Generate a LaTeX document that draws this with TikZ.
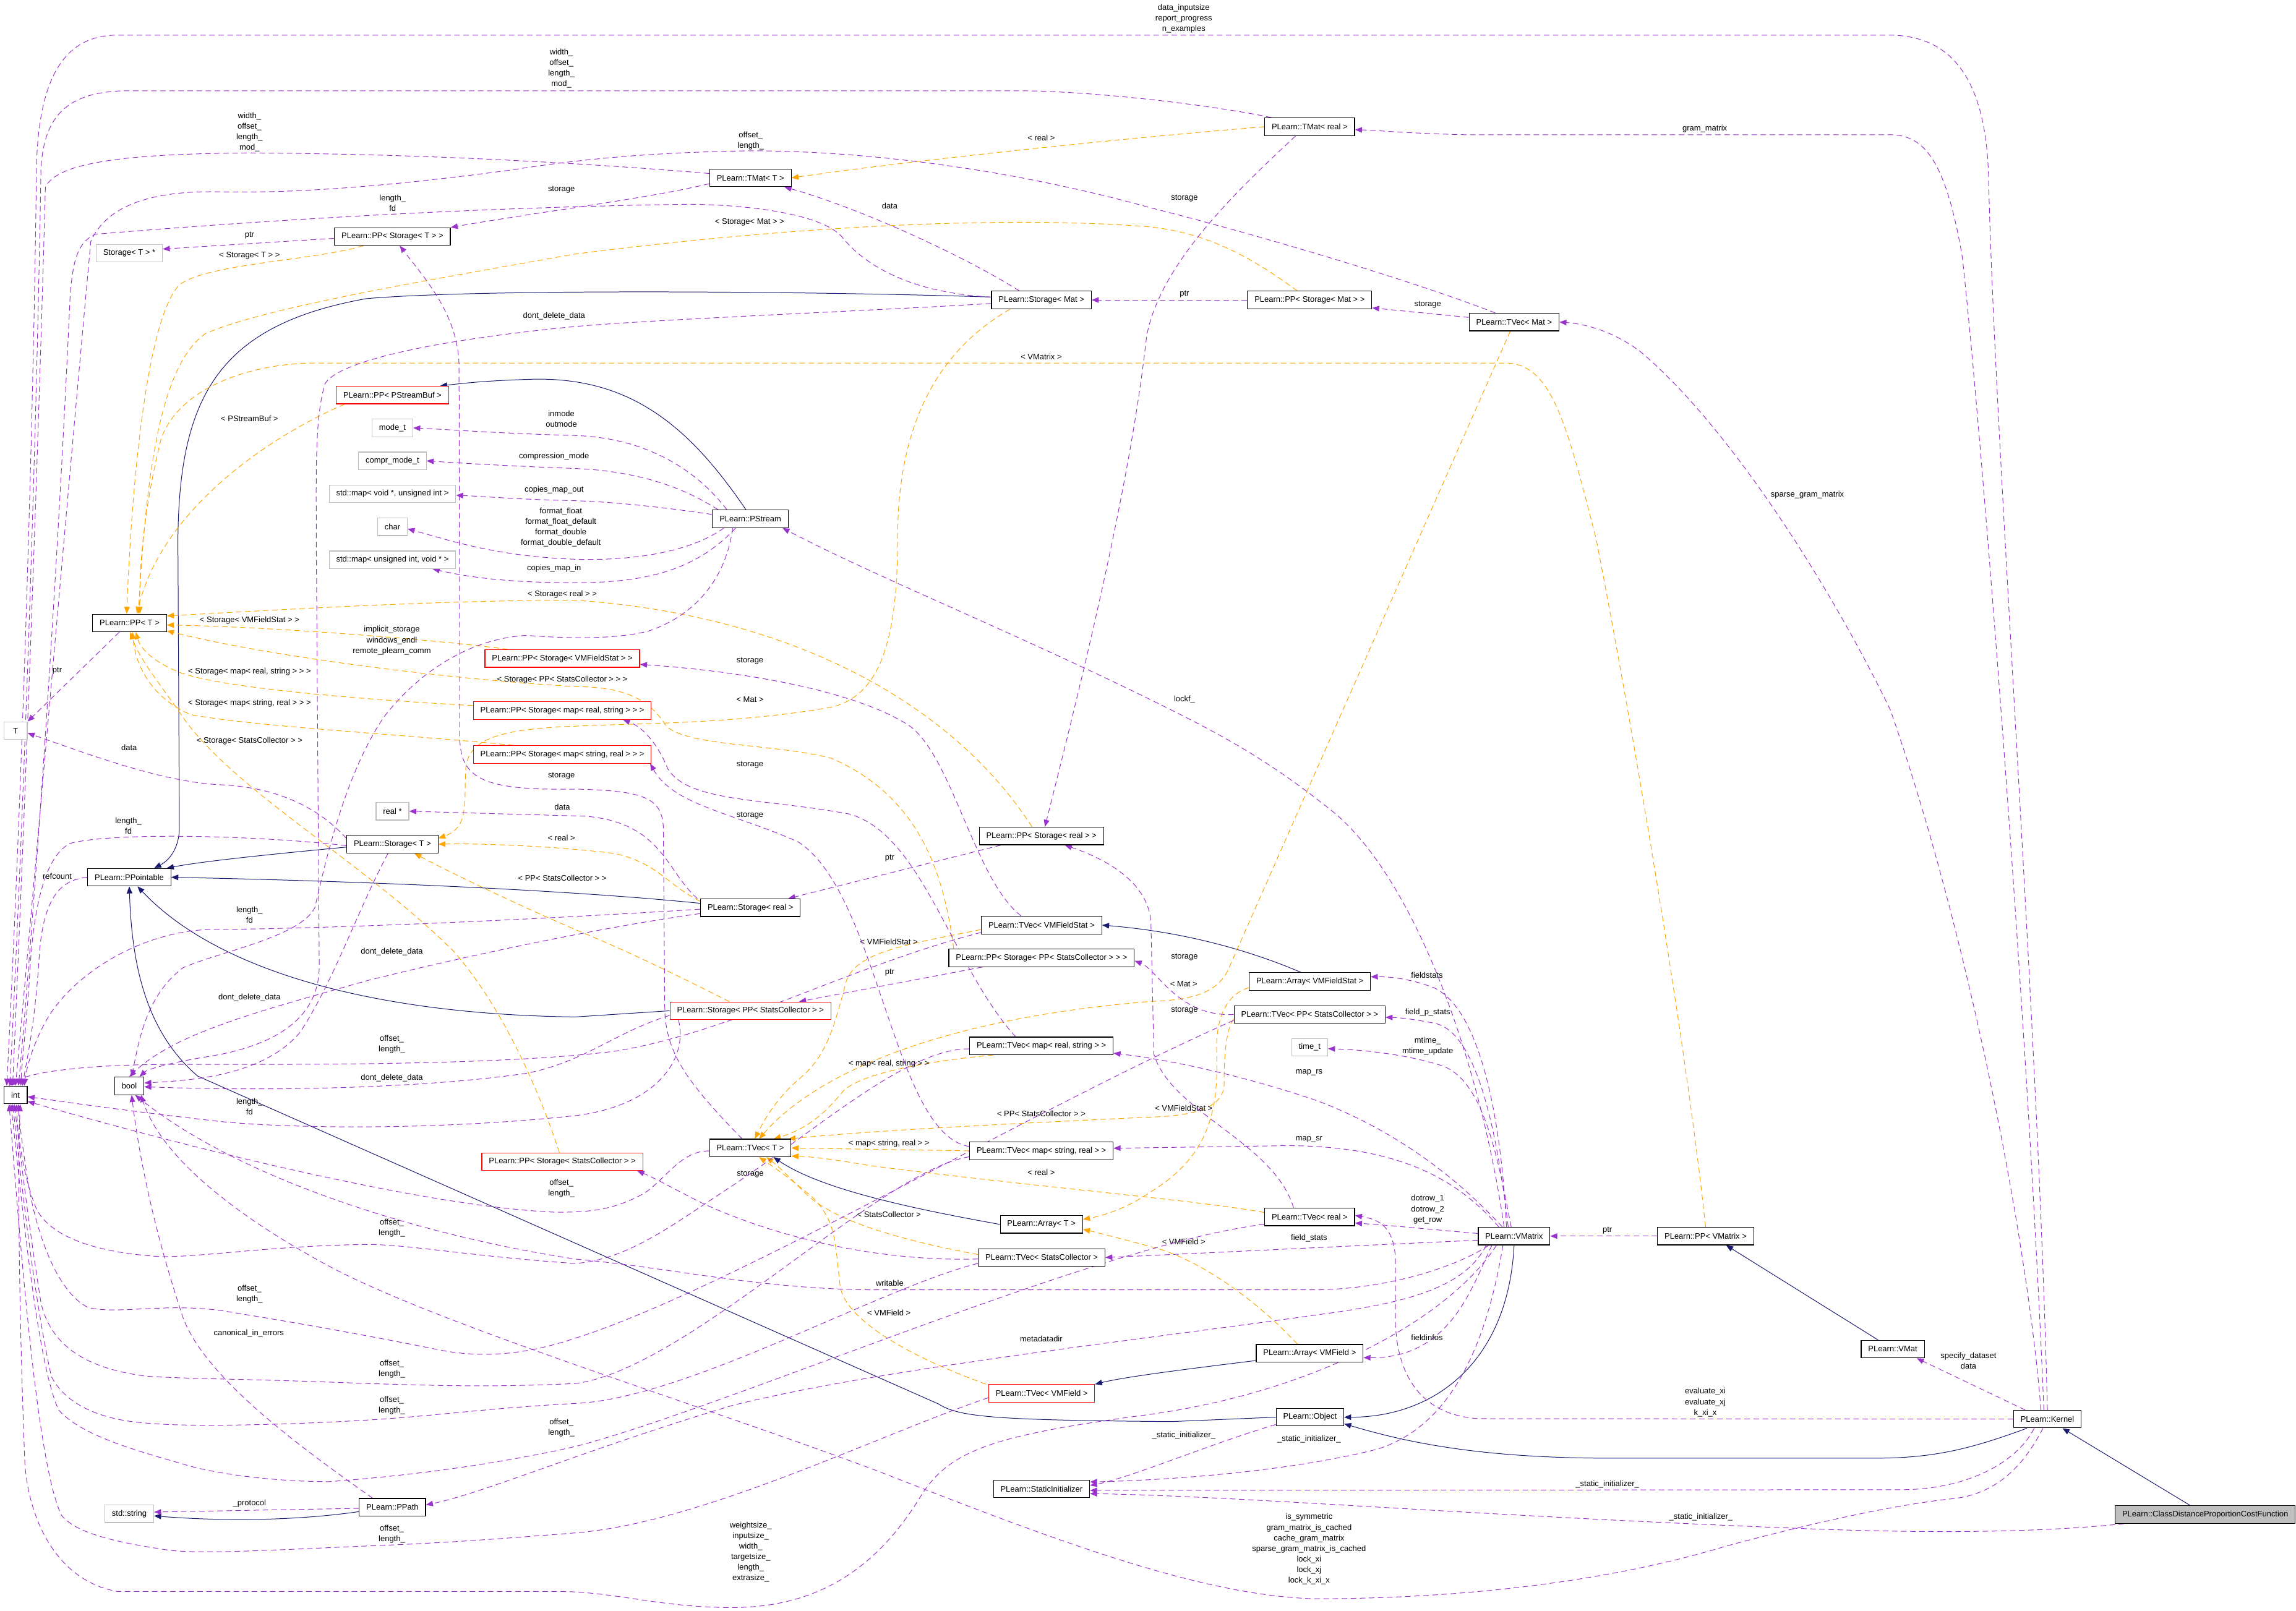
\documentclass[tikz,border=0pt]{standalone}
\usepackage{fontspec}
\setmainfont{Liberation Sans}
\usetikzlibrary{arrows.meta}
\definecolor{useedge}{HTML}{9A32CD}
\definecolor{tmpledge}{HTML}{FFA500}
\definecolor{inhedge}{HTML}{191970}
\definecolor{boxgray}{HTML}{BFBFBF}
\pgfdeclarelayer{edges}
\pgfsetlayers{edges,main}

\begin{document}
\begin{tikzpicture}[
    x=0.5mm, y=-0.5mm,
    >={Triangle[length=2.4mm,width=1.9mm]},
    font=\fontsize{7.8}{10.3}\selectfont,
    cls/.style={draw=black, fill=white, line width=0.7pt, minimum width=8mm, minimum height=6mm, inner xsep=2.4mm, inner ysep=0pt},
    ext/.style={cls, draw=boxgray},
    trunc/.style={cls, draw=red},
    focus/.style={cls, fill=boxgray},
    inherit/.style={->, draw=inhedge, line width=0.6pt},
    member/.style={->, draw=useedge, line width=0.6pt, dash pattern=on 1.9mm off 1.2mm},
    tmpl/.style={->, draw=tmpledge, line width=0.6pt, dash pattern=on 1.9mm off 1.2mm},
    lab/.style={align=center, inner sep=0pt}
  ]
    \useasboundingbox (0,0) rectangle (1568,1100);

    \node[cls] (int) at (10.6,747.9) {int};
    \node[cls] (bool) at (88.3,741.7) {bool};
    \node[ext] (tT) at (10.6,499.1) {T};
    \node[cls] (ppT) at (88.5,425.5) {PLearn::PP< T >};
    \node[cls] (ppointable) at (88.3,599.2) {PLearn::PPointable};
    \node[ext] (stdstring) at (88.3,1034) {std::string};
    \node[ext] (storTptr) at (88.3,172.9) {Storage< T > *};
    \node[cls] (ppStorT) at (268,161.6) {PLearn::PP< Storage< T > >};
    \node[trunc] (ppPStreamBuf) at (268,269.8) {PLearn::PP< PStreamBuf >};
    \node[ext] (modet) at (268,292.3) {mode\_t};
    \node[ext] (comprmodet) at (268,314.8) {compr\_mode\_t};
    \node[ext] (mapvoid) at (268,337.3) {std::map< void *, unsigned int >};
    \node[ext] (char) at (268,359.8) {char};
    \node[ext] (mapuint) at (268,382.4) {std::map< unsigned int, void * >};
    \node[trunc] (ppStorVMFS) at (384,449.8) {PLearn::PP< Storage< VMFieldStat > >};
    \node[trunc] (ppStorMapRS) at (384,485.3) {PLearn::PP< Storage< map< real, string > > >};
    \node[trunc] (ppStorMapSR) at (384,515.3) {PLearn::PP< Storage< map< string, real > > >};
    \node[ext] (realptr) at (268,554.1) {real *};
    \node[cls] (storT) at (268,576.6) {PLearn::Storage< T >};
    \node[trunc] (ppStorSC) at (384,793.5) {PLearn::PP< Storage< StatsCollector > >};
    \node[cls] (ppath) at (268,1029.5) {PLearn::PPath};
    \node[cls] (tmatT) at (512.5,121.5) {PLearn::TMat< T >};
    \node[cls] (pstream) at (512.4,354.4) {PLearn::PStream};
    \node[cls] (storReal) at (512.5,620) {PLearn::Storage< real >};
    \node[trunc] (storPPSC) at (512.5,690.4) {PLearn::Storage< PP< StatsCollector > >};
    \node[cls] (tvecT) at (512.4,784.1) {PLearn::TVec< T >};
    \node[cls] (storMat) at (711.2,204.9) {PLearn::Storage< Mat >};
    \node[cls] (ppStorReal) at (711.2,571) {PLearn::PP< Storage< real > >};
    \node[cls] (tvecVMFS) at (711.3,631.9) {PLearn::TVec< VMFieldStat >};
    \node[cls] (ppStorPPSC) at (711.3,654.3) {PLearn::PP< Storage< PP< StatsCollector > > >};
    \node[cls] (tvecMapRS) at (711.2,714.4) {PLearn::TVec< map< real, string > >};
    \node[cls] (tvecMapSR) at (711.2,786.1) {PLearn::TVec< map< string, real > >};
    \node[cls] (arrayT) at (711.2,836.3) {PLearn::Array< T >};
    \node[cls] (tvecSC) at (711.4,858.9) {PLearn::TVec< StatsCollector >};
    \node[trunc] (tvecVMField) at (711.4,951.7) {PLearn::TVec< VMField >};
    \node[cls] (staticinit) at (711.3,1017) {PLearn::StaticInitializer};
    \node[cls] (tmatReal) at (894.4,86.6) {PLearn::TMat< real >};
    \node[cls] (ppStorMat) at (894.4,204.9) {PLearn::PP< Storage< Mat > >};
    \node[cls] (tvecMat) at (1034,220) {PLearn::TVec< Mat >};
    \node[cls] (arrayVMFS) at (894.5,670.4) {PLearn::Array< VMFieldStat >};
    \node[cls] (tvecPPSC) at (894.4,692.9) {PLearn::TVec< PP< StatsCollector > >};
    \node[ext] (timet) at (894.4,715.3) {time\_t};
    \node[cls] (tvecReal) at (894.4,831.2) {PLearn::TVec< real >};
    \node[cls] (vmatrix) at (1034,844.3) {PLearn::VMatrix};
    \node[cls] (ppVMatrix) at (1164.8,844.3) {PLearn::PP< VMatrix >};
    \node[cls] (arrayVMField) at (894.4,924.3) {PLearn::Array< VMField >};
    \node[cls] (object) at (894.6,968) {PLearn::Object};
    \node[cls] (vmat) at (1292.6,921.5) {PLearn::VMat};
    \node[cls] (kernel) at (1398.2,969.3) {PLearn::Kernel};
    \node[focus] (cdpcf) at (1506,1034.5) {PLearn::ClassDistanceProportionCostFunction};

    \begin{pgfonlayer}{edges}
    \draw[inherit] (cdpcf) -- (kernel);
    \draw[inherit] ([xshift=-7mm]kernel.south) .. controls (1345,990) and (1320,996) .. (1280,996) -- (1100,996) .. controls (1010,996) and (960,985) .. ([yshift=-2.25mm]object.east);
    \draw[inherit] (vmatrix.south) .. controls (1030,930) and (980,968) .. (object.east);
    \draw[inherit] (object.west) -- (800,971) .. controls (680,970) and (655,968) .. (641,959) -- (135,735) .. controls (100,705) and (90,660) .. (ppointable.south);
    \draw[inherit] (storPPSC.west) -- (393,694.6) .. controls (260,693) and (150,665) .. ([xshift=2.8mm]ppointable.south);
    \draw[inherit] ([yshift=1.5mm]storReal.west) .. controls (420,611) and (300,603) .. (ppointable.east);
    \draw[inherit] ([yshift=-1mm]storT.west) .. controls (190,583) and (140,588) .. ([xshift=12.8mm]ppointable.north);
    \draw[inherit] ([yshift=1mm]storMat.west) .. controls (560,199) and (330,197) .. (250,204) .. controls (150,222) and (122,270) .. (121.5,370) -- (122.5,565) .. controls (122.5,580) and (115,588) .. ([xshift=8.5mm]ppointable.north);
    \draw[inherit] ([xshift=-1.5mm]pstream.north) .. controls (470,290) and (430,258) .. (365,259) .. controls (330,260) and (315,262) .. ([xshift=-3mm]ppPStreamBuf.north east);
    \draw[inherit] ([yshift=-1.5mm]ppath.west) .. controls (200,1039) and (150,1039) .. ([yshift=-0.7mm]stdstring.east);
    \draw[inherit] ([xshift=-3mm]arrayVMFS.north) .. controls (860,652) and (815,637) .. (tvecVMFS.east);
    \draw[inherit] (arrayT.west) .. controls (620,825) and (560,812) .. ([xshift=7.9mm]tvecT.south);
    \draw[inherit] ([yshift=-2.5mm]arrayVMField.west) .. controls (820,934) and (770,940) .. (tvecVMField.north east);
    \draw[inherit] ([xshift=-5mm]vmat.north) -- ([xshift=7mm]ppVMatrix.south);

    \draw[tmpl] (tmatReal.west) .. controls (760,95) and (620,110) .. (tmatT.east) node[lab] at (711.1,94.2) {< real >};
    \draw[tmpl] ([xshift=-10mm]ppStorT.south) .. controls (215,178) and (140,180) .. (122,195) .. controls (100,220) and (90,330) .. ([xshift=-1mm]ppT.north) node[lab] at (170.4,174.6) {< Storage< T > >};
    \draw[tmpl] ([xshift=-4.2mm]ppStorMat.north) .. controls (860,180) and (830,160) .. (786,155) .. controls (700,148) and (560,152) .. (393,173.5) .. controls (300,190) and (180,210) .. (140,228) .. controls (110,250) and (100,320) .. ([xshift=3mm]ppT.north) node[lab] at (511.9,151.7) {< Storage< Mat > >};
    \draw[tmpl] ([xshift=-16.3mm]ppPStreamBuf.south) .. controls (180,300) and (110,350) .. ([xshift=2.5mm]ppT.north) node[lab] at (170.4,286) {< PStreamBuf >};
    \draw[tmpl] (ppVMatrix.north) .. controls (1150,700) and (1110,470) .. (1090,368) .. controls (1070,290) and (1060,250) .. (1030,248) -- (210,248) .. controls (160,250) and (120,270) .. (110,300) .. controls (100,340) and (95,380) .. ([xshift=3.5mm]ppT.north) node[lab] at (711.1,243.8) {< VMatrix >};
    \draw[tmpl] ([xshift=-3.2mm]ppStorReal.north) .. controls (650,480) and (540,420) .. (393,410) .. controls (300,410) and (200,416) .. ([yshift=2.4mm]ppT.east) node[lab] at (384,405.8) {< Storage< real > >};
    \draw[tmpl] ([xshift=8mm]ppStorVMFS.north west) .. controls (290,436) and (180,428) .. ([yshift=-0.7mm]ppT.east) node[lab] at (170.4,423.9) {< Storage< VMFieldStat > >};
    \draw[tmpl] ([xshift=-30mm]ppStorPPSC.north) .. controls (645,600) and (630,545) .. (568,518) .. controls (530,508) and (470,510) .. (455,496) .. controls (445,480) and (430,469) .. (393,469) .. controls (280,462) and (170,445) .. ([yshift=-2.7mm]ppT.east) node[lab] at (384,464.2) {< Storage< PP< StatsCollector > > >};
    \draw[tmpl] ([yshift=1.7mm]ppStorMapRS.west) .. controls (250,478) and (150,470) .. (122,459) .. controls (100,450) and (95,440) .. ([xshift=2.1mm]ppT.south) node[lab] at (170.4,458.6) {< Storage< map< real, string > > >};
    \draw[tmpl] ([xshift=-16.6mm]ppStorMapSR.north) .. controls (280,502) and (170,496) .. (130,488) .. controls (100,475) and (92,450) .. ([xshift=1mm]ppT.south) node[lab] at (170.4,480.4) {< Storage< map< string, real > > >};
    \draw[tmpl] ([xshift=-1mm]ppStorSC.north) .. controls (370,750) and (345,690) .. (310,650) .. controls (250,590) and (160,540) .. (125,490) .. controls (110,468) and (95,450) .. ([xshift=0.2mm]ppT.south) node[lab] at (170.4,505.9) {< Storage< StatsCollector > >};
    \draw[tmpl] ([xshift=-10.7mm]storMat.south) .. controls (640,240) and (613,290) .. (613,368) .. controls (613,440) and (600,475) .. (568,483) .. controls (500,495) and (430,494) .. (393,496) .. controls (340,498) and (320,505) .. (318,525) .. controls (317,550) and (320,565) .. ([yshift=2mm]storT.east) node[lab] at (512.2,477.8) {< Mat >};
    \draw[tmpl] ([yshift=2.2mm]storReal.west) .. controls (455,604) and (450,590) .. (420,583) .. controls (380,578) and (330,576) .. (storT.east) node[lab] at (383.4,572.2) {< real >};
    \draw[tmpl] ([xshift=-7.2mm]storPPSC.north) .. controls (470,670) and (430,650) .. (393,635) .. controls (340,612) and (300,592) .. ([xshift=7.5mm]storT.south) node[lab] at (384,599.9) {< PP< StatsCollector > >};
    \draw[tmpl] ([xshift=-1.3mm]tvecMat.south) -- (838,664) .. controls (830,678) and (815,683) .. (786,684) .. controls (650,695) and (560,730) .. ([xshift=3mm]tvecT.north) node[lab] at (808.4,672.3) {< Mat >};
    \draw[tmpl] ([yshift=-1.5mm]tvecVMFS.west) .. controls (620,645) and (585,650) .. (578,670) .. controls (570,700) and (565,720) .. (548,735) .. controls (530,750) and (522,765) .. ([xshift=1.5mm]tvecT.north) node[lab] at (607.1,643.3) {< VMFieldStat >};
    \draw[tmpl] ([yshift=-1.5mm]tvecPPSC.west) .. controls (836,705) and (836,730) .. (836,740) .. controls (836,755) and (820,762) .. (786,763) .. controls (680,768) and (600,772) .. ([xshift=-1mm]tvecT.north east) node[lab] at (711.1,760.7) {< PP< StatsCollector > >};
    \draw[tmpl] ([xshift=-16.4mm]tvecMapRS.south) .. controls (640,724) and (590,732) .. (576,745) .. controls (568,755) and (555,770) .. ([xshift=8mm]tvecT.north) node[lab] at (607.1,726.7) {< map< real, string > >};
    \draw[tmpl] (tvecMapSR.west) -- (tvecT.east) node[lab] at (607.1,781.2) {< map< string, real > >};
    \draw[tmpl] ([yshift=1.5mm]tvecReal.west) .. controls (820,820) and (700,810) .. (593,796) .. controls (570,792) and (555,790) .. ([yshift=-2.8mm]tvecT.east) node[lab] at (711.1,801) {< real >};
    \draw[tmpl] ([yshift=1mm]tvecSC.west) .. controls (620,848) and (570,835) .. (550,815) .. controls (540,805) and (532,797) .. ([xshift=5.5mm]tvecT.south) node[lab] at (607.1,829.4) {< StatsCollector >};
    \draw[tmpl] ([xshift=-19mm]tvecVMField.north) .. controls (630,930) and (580,905) .. (574,880) .. controls (570,850) and (572,835) .. (555,818) .. controls (540,805) and (528,797) .. ([xshift=3mm]tvecT.south) node[lab] at (607.1,896.6) {< VMField >};
    \draw[tmpl] ([yshift=-2.1mm]arrayVMFS.west) .. controls (835,680) and (830,700) .. (831,720) .. controls (832,760) and (825,790) .. (786,814) .. controls (770,825) and (755,830) .. ([yshift=1.7mm]arrayT.east) node[lab] at (808.4,756.8) {< VMFieldStat >};
    \draw[tmpl] ([xshift=-4.2mm]arrayVMField.north) .. controls (860,890) and (820,860) .. (786,851.5) .. controls (765,846) and (750,842) .. ([yshift=-1.7mm]arrayT.east) node[lab] at (808.4,848.2) {< VMField >};

    \draw[member] (kernel.north) .. controls (1392,700) and (1362,300) .. (1358,120) .. controls (1356,50) and (1330,24) .. (1290,24) -- (80,24) .. controls (40,24) and (27,60) .. (25,110) .. controls (22,350) and (12,600) .. ([xshift=-3mm]int.north) node[lab] at (808.4,12.8) {data\_inputsize\\report\_progress\\n\_examples};
    \draw[member] ([xshift=-1.2mm]kernel.north) .. controls (1385,700) and (1352,280) .. (1340,175) .. controls (1328,105) and (1312,92) .. (1290,92) -- (1000,92) .. controls (960,91) and (940,89) .. ([yshift=-1mm]tmatReal.east) node[lab] at (1164.2,87.9) {gram\_matrix};
    \draw[member] ([xshift=-2.2mm]kernel.north) .. controls (1385,850) and (1345,640) .. (1291,485) .. controls (1250,400) and (1180,290) .. (1120,240) .. controls (1100,225) and (1080,221) .. (tvecMat.east) node[lab] at (1234.3,337.8) {sparse\_gram\_matrix};
    \draw[member] ([xshift=-7.6mm]kernel.north) -- ([xshift=8.2mm]vmat.south) node[lab] at (1344.3,929.5) {specify\_dataset\\data};
    \draw[member] (kernel.west) -- (1010,969) .. controls (975,967) and (955,945) .. (953,905) -- (953,860) .. controls (952,838) and (942,833) .. ([yshift=0.5mm]tvecReal.east) node[lab] at (1164.6,957.9) {evaluate\_xi\\evaluate\_xj\\k\_xi\_x};
    \draw[member] ([xshift=-4.5mm]kernel.south) .. controls (1378,998) and (1345,1017) .. (1300,1017.5) -- ([yshift=-0.5mm]staticinit.east) node[lab] at (1097.7,1013.7) {\_static\_initializer\_};
    \draw[member] ([xshift=-27.7mm]cdpcf.south) .. controls (1400,1046) and (1330,1048) .. (1230,1044) .. controls (1000,1035) and (850,1022) .. ([yshift=-1.6mm]staticinit.east) node[lab] at (1161.6,1036.1) {\_static\_initializer\_};
    \draw[member] ([xshift=-1.5mm]kernel.south) .. controls (1380,1005) and (1360,1022) .. (1330,1024) .. controls (1280,1030) and (1220,1045) .. (1179,1056) .. controls (1100,1080) and (1000,1092) .. (898,1092) .. controls (820,1090) and (720,1052) .. (600,1005) .. controls (480,960) and (300,905) .. (225,865) .. controls (160,830) and (110,790) .. ([xshift=4mm]bool.south) node[lab] at (894,1058.1) {is\_symmetric\\gram\_matrix\_is\_cached\\cache\_gram\_matrix\\sparse\_gram\_matrix\_is\_cached\\lock\_xi\\lock\_xj\\lock\_k\_xi\_x};

    \draw[member] (ppVMatrix.west) -- (vmatrix.east) node[lab] at (1097.7,840.3) {ptr};
    \draw[member] ([yshift=0.9mm]vmatrix.west) .. controls (980,840) and (950,837) .. ([yshift=-2.1mm]tvecReal.east) node[lab] at (975,826.1) {dotrow\_1\\dotrow\_2\\get\_row};
    \draw[member] ([yshift=-1.4mm]vmatrix.west) .. controls (900,852) and (800,857) .. (tvecSC.east) node[lab] at (894,845.9) {field\_stats};
    \draw[member] ([xshift=-7.6mm]vmatrix.south) .. controls (1005,880) and (990,928) .. ([yshift=-1.5mm]arrayVMField.east) node[lab] at (974.5,913.4) {fieldinfos};
    \draw[member] ([xshift=-3.8mm]vmatrix.south) .. controls (1015,920) and (990,975) .. (940,990) .. controls (880,1005) and (800,1011) .. ([yshift=2.4mm]staticinit.east) node[lab] at (894,982.8) {\_static\_initializer\_};
    \draw[member] ([yshift=-2.5mm]object.west) .. controls (830,985) and (770,1010) .. ([yshift=1.2mm]staticinit.east) node[lab] at (808.4,980.4) {\_static\_initializer\_};
    \draw[member] ([xshift=-2.6mm]vmatrix.north) .. controls (1025,760) and (1010,690) .. (980,675) .. controls (965,669) and (950,667) .. ([yshift=1.6mm]arrayVMFS.east) node[lab] at (974.5,666) {fieldstats};
    \draw[member] ([xshift=-2mm]vmatrix.north) .. controls (1022,770) and (1008,705) .. (980,699) .. controls (965,696) and (955,695) .. ([yshift=-1mm]tvecPPSC.east) node[lab] at (975,691.6) {field\_p\_stats};
    \draw[member] ([xshift=-1mm]vmatrix.north) .. controls (1022,785) and (1012,738) .. (985,728) .. controls (960,720) and (930,717) .. ([yshift=-0.5mm]timet.east) node[lab] at (975,714.5) {mtime\_\\mtime\_update};
    \draw[member] ([xshift=-4mm]vmatrix.north) .. controls (1000,810) and (960,775) .. (900,752) .. controls (850,735) and (800,724) .. ([yshift=-2.5mm]tvecMapRS.east) node[lab] at (894,732.6) {map\_rs};
    \draw[member] ([xshift=-5.2mm]vmatrix.north) .. controls (995,805) and (955,783) .. (880,782.5) -- ([yshift=0.9mm]tvecMapSR.east) node[lab] at (894,778.4) {map\_sr};
    \draw[member] ([xshift=-3.4mm]vmatrix.north) .. controls (1010,720) and (965,600) .. (911,555) .. controls (870,522) and (840,505) .. (800,485) .. controls (700,435) and (600,395) .. ([xshift=11mm]pstream.south) node[lab] at (808.9,477.8) {lockf\_};
    \draw[member] ([xshift=-8.6mm]vmatrix.south) .. controls (995,865) and (950,880) .. (900,881) -- (600,881) .. controls (520,881) and (460,866) .. (393,860) .. controls (300,846) and (170,810) .. ([xshift=2mm]bool.south) node[lab] at (607.6,876.4) {writable};
    \draw[member] ([xshift=-9.5mm]vmatrix.south) .. controls (1000,880) and (960,890) .. (900,898) .. controls (780,915) and (600,935) .. (500,960) .. controls (400,990) and (330,1020) .. ([yshift=0.8mm]ppath.east) node[lab] at (711.1,914.3) {metadatadir};
    \draw[member] ([xshift=-6mm]vmatrix.south) .. controls (990,900) and (900,950) .. (786,966) .. controls (680,980) and (650,990) .. (630,1020) .. controls (600,1070) and (560,1098) .. (500,1098) .. controls (450,1098) and (420,1087) .. (380,1087) -- (80,1087) .. controls (40,1080) and (20,1040) .. (17,1000) .. controls (13,900) and (12,800) .. ([xshift=1.6mm]int.south) node[lab] at (512.7,1060.1) {weightsize\_\\inputsize\_\\width\_\\targetsize\_\\length\_\\extrasize\_};

    \draw[member] ([xshift=-13mm]tmatReal.north) .. controls (840,74) and (760,63) .. (700,62) -- (85,62) .. controls (45,63) and (30,80) .. (28,115) .. controls (24,350) and (14,600) .. ([xshift=-2mm]int.north) node[lab] at (383.4,46.7) {width\_\\offset\_\\length\_\\mod\_};
    \draw[member] ([yshift=1.5mm]tmatT.west) .. controls (420,113) and (300,105) .. (170,104.5) .. controls (80,105) and (38,112) .. (31,128) .. controls (25,350) and (15,600) .. ([xshift=-1mm]int.north) node[lab] at (170.4,90.2) {width\_\\offset\_\\length\_\\mod\_};
    \draw[member] ([xshift=-6.4mm]tvecMat.north) .. controls (960,190) and (850,158) .. (786,142) .. controls (700,118) and (600,103) .. (512,103) .. controls (450,104) and (400,108) .. (350,116) .. controls (260,128) and (200,132) .. (150,131) .. controls (100,130) and (72,142) .. (62,165) .. controls (45,350) and (22,620) .. (int.north) node[lab] at (512.7,96) {offset\_\\length\_};
    \draw[member] ([yshift=1mm]storMat.west) .. controls (620,200) and (590,180) .. (576,163) .. controls (565,148) and (520,140) .. (470,139.5) .. controls (300,142) and (150,153) .. (65,160) .. controls (52,166) and (50,180) .. (48,200) .. controls (38,420) and (22,640) .. ([xshift=1mm]int.north) node[lab] at (268.1,138.6) {length\_\\fd};
    \draw[member] ([yshift=-1.2mm]storMat.west) .. controls (600,212) and (450,218) .. (393,223) .. controls (300,232) and (232,246) .. (222,262) .. controls (215,285) and (216,320) .. (216,370) -- (218,660) .. controls (218,700) and (180,716) .. (140,722) .. controls (110,727) and (100,731) .. ([xshift=3.5mm]bool.north) node[lab] at (378.4,215.7) {dont\_delete\_data};
    \draw[member] (ppStorMat.west) -- (storMat.east) node[lab] at (808.9,200.9) {ptr};
    \draw[member] ([yshift=1.6mm]tvecMat.west) -- ([yshift=-2.7mm]ppStorMat.east) node[lab] at (975,208.2) {storage};
    \draw[member] ([xshift=-7.5mm]storMat.north) .. controls (650,170) and (580,140) .. ([xshift=11.6mm]tmatT.south) node[lab] at (607.6,140.4) {data};
    \draw[member] ([yshift=-2mm]tmatT.west) .. controls (440,136) and (360,146) .. (ppStorT.north east) node[lab] at (383.4,129.6) {storage};
    \draw[member] ([xshift=-2.8mm]tvecT.north) .. controls (470,740) and (455,720) .. (454,690) -- (453,565) .. controls (452,545) and (440,540) .. (393,539) .. controls (330,540) and (315,532) .. (314,505) -- (313.5,250) .. controls (313,215) and (290,190) .. ([xshift=2.5mm]ppStorT.south) node[lab] at (383.4,530.1) {storage};
    \draw[member] ([yshift=-0.6mm]ppStorT.west) -- ([yshift=1.4mm]storTptr.east) node[lab] at (170.4,160.6) {ptr};
    \draw[member] ([xshift=-3.5mm]ppT.south) -- (tT.north east) node[lab] at (39.1,458.3) {ptr};
    \draw[member] ([yshift=2mm]storT.west) .. controls (225,560) and (200,538) .. (150,536) .. controls (110,534) and (60,515) .. ([yshift=-0.8mm]tT.east) node[lab] at (88.2,510.6) {data};
    \draw[member] ([xshift=-1mm]storReal.north west) .. controls (455,595) and (452,562) .. (400,557.5) -- (realptr.east) node[lab] at (384,551.1) {data};
    \draw[member] ([yshift=-0.5mm]storT.west) .. controls (180,571) and (80,568) .. (48,576) .. controls (28,586) and (22,630) .. (20,670) .. controls (18,700) and (15,725) .. ([xshift=1.8mm]int.north) node[lab] at (87.7,564) {length\_\\fd};
    \draw[member] (ppointable.west) .. controls (40,601) and (30,615) .. (27,650) .. controls (24,700) and (18,725) .. ([xshift=2.4mm]int.north) node[lab] at (39.1,598.5) {refcount};
    \draw[member] ([yshift=-0.5mm]storReal.west) .. controls (400,626) and (250,634) .. (140,635) .. controls (90,638) and (45,670) .. (30,700) .. controls (22,715) and (18,730) .. ([xshift=3mm]int.north) node[lab] at (170.4,624.8) {length\_\\fd};
    \draw[member] ([yshift=-2mm]storReal.west) .. controls (420,632) and (330,650) .. (250,670) .. controls (180,690) and (120,705) .. (bool.north) node[lab] at (170.4,681.2) {dont\_delete\_data};
    \draw[member] ([xshift=-1.5mm]storT.south) .. controls (245,620) and (228,670) .. (205,705) .. controls (180,735) and (130,738) .. ([yshift=1mm]bool.east) node[lab] at (267.6,650.1) {dont\_delete\_data};
    \draw[member] ([yshift=-1.6mm]storPPSC.west) .. controls (420,705) and (400,725) .. (360,733) .. controls (300,742) and (200,746) .. ([yshift=-0.3mm]bool.east) node[lab] at (267.6,736.3) {dont\_delete\_data};
    \draw[member] ([xshift=3mm]storPPSC.south west) .. controls (470,722) and (450,755) .. (393,762) .. controls (300,772) and (200,771) .. (150,766) .. controls (80,758) and (40,752) .. ([yshift=-0.6mm]int.east) node[lab] at (170.4,755.8) {length\_\\fd};
    \draw[member] ([xshift=-6mm]pstream.south) .. controls (495,400) and (470,422) .. (443,431) .. controls (420,437) and (385,436) .. (360,434) .. controls (320,436) and (285,460) .. (262,490) .. controls (235,530) and (222,590) .. (215,620) .. controls (205,640) and (150,650) .. (125,661) .. controls (100,680) and (95,710) .. ([xshift=0.8mm]bool.north) node[lab] at (267.6,437.5) {implicit\_storage\\windows\_endl\\remote\_plearn\_comm};
    \draw[member] ([xshift=-8mm]pstream.north) .. controls (475,320) and (440,299) .. (393,297.5) .. controls (340,296) and (300,293) .. (modet.east) node[lab] at (383.4,286.2) {inmode\\outmode};
    \draw[member] ([xshift=-11mm]pstream.north) .. controls (470,335) and (440,322) .. (393,320) .. controls (340,318) and (310,316) .. (comprmodet.east) node[lab] at (378.4,311.8) {compression\_mode};
    \draw[member] ([yshift=1.5mm]pstream.west) .. controls (450,346) and (420,343) .. (393,342) .. controls (350,341) and (330,339) .. ([yshift=-0.5mm]mapvoid.east) node[lab] at (378.4,334.7) {copies\_map\_out};
    \draw[member] ([xshift=-9mm]pstream.south) .. controls (470,378) and (430,383) .. (393,382) .. controls (340,380) and (310,370) .. ([yshift=-0.7mm]char.east) node[lab] at (383,360.2) {format\_float\\format\_float\_default\\format\_double\\format\_double\_default};
    \draw[member] ([xshift=-5mm]pstream.south) .. controls (475,390) and (440,398) .. (393,398) .. controls (340,398) and (315,393) .. ([xshift=-8mm]mapuint.south east) node[lab] at (378.4,388.2) {copies\_map\_in};
    \draw[member] ([xshift=-7mm]tvecVMFS.north) .. controls (665,600) and (650,515) .. (620,495) .. controls (580,470) and (500,458) .. ([yshift=-2mm]ppStorVMFS.east) node[lab] at (512.2,451.5) {storage};
    \draw[member] ([xshift=-8.8mm]tvecMapRS.north) .. controls (650,660) and (630,570) .. (580,556) .. controls (520,545) and (470,548) .. (456,525) .. controls (450,510) and (440,497) .. ([xshift=20.7mm]ppStorMapRS.south) node[lab] at (512.2,522.5) {storage};
    \draw[member] ([yshift=1.5mm]tvecMapSR.west) .. controls (610,775) and (600,610) .. (545,575) .. controls (500,555) and (460,550) .. ([xshift=30mm]ppStorMapSR.south) node[lab] at (512.2,557) {storage};
    \draw[member] ([yshift=-0.5mm]tvecSC.west) .. controls (600,862) and (530,845) .. (480,822) .. controls (460,812) and (448,805) .. ([xshift=-2mm]ppStorSC.south east) node[lab] at (512.4,802.1) {storage};
    \draw[member] ([xshift=-5.5mm]tvecReal.north) .. controls (870,780) and (800,760) .. (788,720) -- (786,630) .. controls (784,600) and (750,585) .. ([xshift=8mm]ppStorReal.south) node[lab] at (808.9,653.6) {storage};
    \draw[member] (tvecPPSC.west) .. controls (805,695) and (790,662) .. ([yshift=-1mm]ppStorPPSC.east) node[lab] at (808.9,690) {storage};
    \draw[member] ([xshift=-13.8mm]ppStorReal.south) -- ([xshift=12.9mm]storReal.north) node[lab] at (607.6,586.3) {ptr};
    \draw[member] ([xshift=-20.2mm]ppStorPPSC.south) -- ([xshift=16.6mm]storPPSC.north) node[lab] at (607.6,664.4) {ptr};
    \draw[member] ([xshift=-4.8mm]tmatReal.south) .. controls (845,130) and (792,180) .. (783,230) .. controls (772,330) and (740,460) .. ([xshift=1.2mm]ppStorReal.north) node[lab] at (808.9,135.5) {storage};
    \draw[member] ([yshift=-0.4mm]ppath.west) .. controls (200,1031) and (150,1032) .. ([yshift=0.6mm]stdstring.east) node[lab] at (170.4,1026.8) {\_protocol};
    \draw[member] ([xshift=-6.8mm]ppath.north) .. controls (200,985) and (140,940) .. (125,900) .. controls (105,840) and (95,790) .. ([xshift=0.8mm]bool.south) node[lab] at (169.9,910.6) {canonical\_in\_errors};

    \draw[member] ([yshift=-2.5mm]tvecVMFS.west) .. controls (580,660) and (500,705) .. (420,718) .. controls (340,728) and (200,727) .. (120,727) .. controls (60,727) and (20,732) .. ([xshift=-2.4mm]int.north) node[lab] at (267.6,713.2) {offset\_\\length\_};
    \draw[member] ([yshift=-1mm]tvecT.west) .. controls (465,786) and (455,805) .. (440,815) .. controls (420,826) and (405,828) .. (380,828) .. controls (300,825) and (150,790) .. ([yshift=-2.2mm]int.east) node[lab] at (383.4,811.8) {offset\_\\length\_};
    \draw[member] ([yshift=-2mm]tvecPPSC.west) .. controls (700,760) and (500,880) .. (393,914) .. controls (360,925) and (330,928) .. (300,922) .. controls (250,912) and (200,903) .. (150,895) .. controls (110,890) and (80,898) .. (60,893) .. controls (35,880) and (22,830) .. (18,800) .. controls (15,780) and (13,765) .. ([xshift=1mm]int.south) node[lab] at (170.4,883.9) {offset\_\\length\_};
    \draw[member] ([yshift=-1mm]tvecMapRS.west) .. controls (620,716) and (560,770) .. (500,810) .. controls (460,836) and (430,860) .. (393,863) .. controls (320,858) and (280,850) .. (250,850) .. controls (180,851) and (130,860) .. (105,858) .. controls (65,855) and (35,845) .. (25,826) .. controls (18,810) and (12,780) .. ([xshift=0.4mm]int.south) node[lab] at (267.6,838.8) {offset\_\\length\_};
    \draw[member] ([yshift=-2mm]tvecMapSR.west) .. controls (600,800) and (470,935) .. (393,945) .. controls (330,948) and (290,946) .. (250,945) .. controls (180,942) and (130,942) .. (100,940) .. controls (60,935) and (35,920) .. (28,890) .. controls (20,840) and (14,790) .. ([xshift=-0.4mm]int.south) node[lab] at (267.6,935.2) {offset\_\\length\_};
    \draw[member] ([yshift=-2mm]tvecSC.west) .. controls (600,880) and (470,955) .. (393,958.6) .. controls (330,962) and (300,967) .. (250,970) .. controls (200,973) and (130,975) .. (100,972) .. controls (70,970) and (45,960) .. (35,940) .. controls (22,880) and (14,800) .. ([xshift=-1mm]int.south) node[lab] at (267.6,959.9) {offset\_\\length\_};
    \draw[member] ([yshift=-2.5mm]tvecReal.west) .. controls (750,850) and (500,960) .. (393,988) .. controls (340,1000) and (280,1008) .. (225,1012) .. controls (180,1012) and (140,1005) .. (125,1000) .. controls (90,990) and (55,980) .. (40,963) .. controls (25,930) and (15,820) .. ([xshift=-1.6mm]int.south) node[lab] at (383.4,975.1) {offset\_\\length\_};
    \draw[member] ([yshift=-1.5mm]tvecVMField.west) .. controls (600,980) and (480,1040) .. (393,1047) .. controls (330,1052) and (300,1054) .. (250,1056) .. controls (180,1059) and (130,1062) .. (110,1058) .. controls (70,1052) and (50,1045) .. (42,1035) .. controls (25,1000) and (14,850) .. ([xshift=-2.2mm]int.south) node[lab] at (267.6,1047.8) {offset\_\\length\_};
    \end{pgfonlayer}
\end{tikzpicture}
\end{document}
